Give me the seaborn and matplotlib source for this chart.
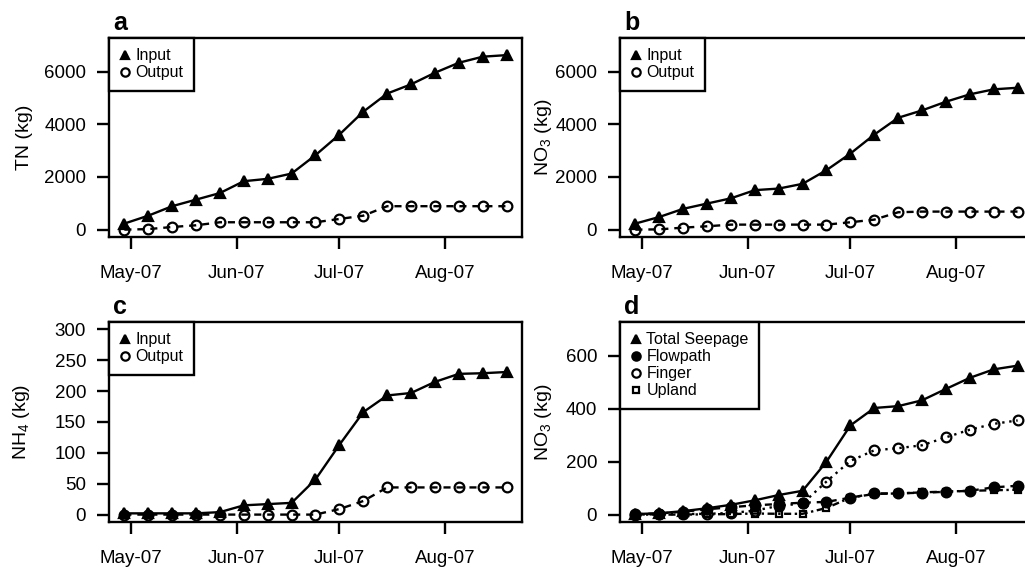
import matplotlib
matplotlib.use("Agg")
import matplotlib.pyplot as plt
import matplotlib.dates as mdates
from matplotlib.lines import Line2D
import numpy as np
import pandas as pd
import seaborn as sns

# ---------------- data ----------------
dates = ["2007-04-29", "2007-05-06", "2007-05-13", "2007-05-20", "2007-05-27",
         "2007-06-03", "2007-06-10", "2007-06-17", "2007-06-24", "2007-07-01",
         "2007-07-08", "2007-07-15", "2007-07-22", "2007-07-29", "2007-08-05",
         "2007-08-12", "2007-08-19"]

tn_input = [230, 530, 890, 1140, 1390, 1840, 1930, 2130, 2830, 3610,
            4480, 5170, 5520, 5960, 6340, 6570, 6630]
tn_output = [0, 20, 100, 165, 280, 280, 280, 280, 280, 405,
             530, 890, 890, 890, 890, 890, 890]

no3_input = [230, 480, 790, 990, 1190, 1500, 1560, 1740, 2260, 2890,
             3610, 4250, 4530, 4860, 5140, 5330, 5390]
no3_output = [0, 10, 76, 127, 190, 190, 190, 190, 190, 280,
              380, 660, 685, 685, 685, 685, 685]

nh4_input = [2, 2, 2, 2, 4, 15, 17, 19, 57, 113,
             166, 193, 197, 215, 228, 229, 231]
nh4_output = [0, 0, 0, 0, 0, 0, 0, 0, 0, 9,
              22, 44, 44, 44, 44, 44, 44]

seep_total = [2, 5, 13, 24, 37, 54, 74, 90, 200, 337,
              403, 410, 432, 475, 517, 549, 563]
seep_flowpath = [2, 4, 11, 20, 28, 35, 40, 45, 48, 64,
                 80, 80, 83, 86, 90, 103, 109]
seep_finger = [0, 1, 2, 3, 6, 15, 33, 42, 125, 203,
               243, 251, 262, 292, 321, 343, 356]
seep_upland = [0, 0, 0, 1, 2, 4, 3, 3, 25, 64,
               78, 80, 84, 87, 90, 92, 94]

month_ticks = ["2007-05-01", "2007-06-01", "2007-07-01", "2007-08-01"]

# ---------------- style ----------------
sns.set_style("ticks")
plt.rcParams["font.family"] = ["Liberation Sans", "DejaVu Sans"]
plt.rcParams["mathtext.fontset"] = "custom"
plt.rcParams["mathtext.rm"] = "Liberation Sans"
plt.rcParams["mathtext.it"] = "Liberation Sans:italic"
plt.rcParams["mathtext.bf"] = "Liberation Sans:bold"
plt.rcParams["text.color"] = "black"
plt.rcParams["axes.labelcolor"] = "black"
plt.rcParams["xtick.color"] = "black"
plt.rcParams["ytick.color"] = "black"

t = pd.to_datetime(dates)

W, H = 1025, 567
fig = plt.figure(figsize=(W / 100, H / 100), dpi=100)

def px_axes(left, top, right, bottom):
    return fig.add_axes([left / W, 1 - bottom / H, (right - left) / W, (bottom - top) / H])

ax_a = px_axes(109, 38, 522, 237)
ax_b = px_axes(620, 38, 1033, 237)
ax_c = px_axes(109, 322, 522, 522)
ax_d = px_axes(620, 322, 1033, 522)

LW = 1.7

def draw(ax, y, marker, ls, filled=True, ms=7.0, label=None):
    kw = dict(color="black", linewidth=LW, marker=marker, markersize=ms,
              markeredgecolor="black", markeredgewidth=1.6,
              markerfacecolor="black" if filled else "none")
    if isinstance(ls, tuple):
        kw["dashes"] = ls
    else:
        kw["linestyle"] = ls
    sns.lineplot(x=t, y=y, ax=ax, label=label, legend=False, **kw)

def style_axes(ax, ylim, yticks, ylabel, letter, ylab_x):
    ax.set_xlim(pd.Timestamp("2007-04-24 12:00"), pd.Timestamp("2007-08-23 12:00"))
    ax.set_ylim(*ylim)
    ax.set_yticks(yticks)
    ax.set_xticks(pd.to_datetime(month_ticks))
    ax.xaxis.set_major_formatter(mdates.DateFormatter("%b-%y"))
    for s in ax.spines.values():
        s.set_visible(True)
        s.set_linewidth(1.7)
        s.set_color("black")
    ax.tick_params(axis="both", direction="out", length=8.5, width=1.7,
                   colors="black", labelsize=13.5)
    ax.tick_params(axis="x", pad=12)
    ax.tick_params(axis="y", pad=8)
    ax.set_xlabel("")
    ax.set_ylabel(ylabel, fontsize=14, color="black")
    ax.yaxis.set_label_coords(ylab_x, 0.5)
    ax.grid(False)
    ax.text(0.01, 1.04, letter, transform=ax.transAxes, fontsize=18,
            fontweight="bold", ha="left", va="baseline", color="black")

def legend(ax, entries):
    handles = []
    for lab, m, filled, ms in entries:
        handles.append(Line2D([], [], color="black", linestyle="none", marker=m,
                              markersize=ms, markeredgewidth=1.6,
                              markerfacecolor="black" if filled else "none",
                              label=lab))
    lg = ax.legend(handles=handles, loc="upper left", borderaxespad=0,
                   frameon=True, fancybox=False, fontsize=11.5,
                   handlelength=0.7, handletextpad=0.3, labelspacing=0.12,
                   borderpad=0.65)
    fr = lg.get_frame()
    fr.set_edgecolor("black")
    fr.set_linewidth(1.7)
    fr.set_alpha(1)

OUT_DASH = (3, 2.5)

# panel a
draw(ax_a, tn_input, "^", "-", True, 7.5)
draw(ax_a, tn_output, "o", OUT_DASH, False, 7)
style_axes(ax_a, (-280, 7280), [0, 2000, 4000, 6000], "TN (kg)", "a", -0.184)
legend(ax_a, [("Input", "^", True, 6), ("Output", "o", False, 6)])

# panel b
draw(ax_b, no3_input, "^", "-", True, 7.5)
draw(ax_b, no3_output, "o", OUT_DASH, False, 7)
style_axes(ax_b, (-280, 7280), [0, 2000, 4000, 6000], "NO$_3$ (kg)", "b", -0.16)
legend(ax_b, [("Input", "^", True, 6), ("Output", "o", False, 6)])

# panel c
draw(ax_c, nh4_input, "^", "-", True, 7.5)
draw(ax_c, nh4_output, "o", OUT_DASH, False, 7)
style_axes(ax_c, (-12, 312), [0, 50, 100, 150, 200, 250, 300], "NH$_4$ (kg)", "c", -0.186)
legend(ax_c, [("Input", "^", True, 6), ("Output", "o", False, 6)])

# panel d
draw(ax_d, seep_total, "^", "-", True, 7.5)
draw(ax_d, seep_flowpath, "o", (3, 2.5), True, 7)
draw(ax_d, seep_finger, "o", (1, 2), False, 7)
draw(ax_d, seep_upland, "s", (3, 1.5, 1, 1.5), False, 5)
style_axes(ax_d, (-28, 728), [0, 200, 400, 600], "NO$_3$ (kg)", "d", -0.16)
legend(ax_d, [("Total Seepage", "^", True, 6), ("Flowpath", "o", True, 6),
              ("Finger", "o", False, 6), ("Upland", "s", False, 4.5)])

fig.savefig("out.png", dpi=100)
